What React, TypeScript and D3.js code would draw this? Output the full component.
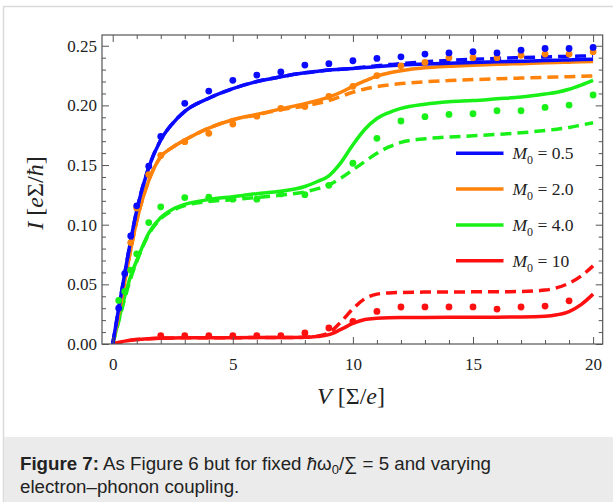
import React, { useEffect, useRef } from "react";
import * as d3 from "d3";

// voltage grid used by all computed curves
const vGrid = [0, 0.25, 0.5, 0.75, 1, 1.5, 2, 2.5, 3, 4, 5, 6, 7, 8, 8.5, 9, 9.5, 10, 10.5, 11, 11.5, 12, 13, 14, 15, 16, 17, 18, 18.5, 19, 19.5, 20];

const blueSolid = [0, 0.03, 0.059, 0.087, 0.112, 0.148, 0.171, 0.185, 0.195, 0.206, 0.214, 0.22, 0.224, 0.2273, 0.2285, 0.2296, 0.2303, 0.231, 0.2318, 0.2325, 0.2332, 0.2338, 0.2347, 0.2353, 0.2359, 0.2365, 0.237, 0.2376, 0.2379, 0.2381, 0.2384, 0.2386];
const blueDashed = [0, 0.03, 0.059, 0.087, 0.112, 0.148, 0.171, 0.185, 0.195, 0.206, 0.214, 0.22, 0.224, 0.2273, 0.2285, 0.2296, 0.2303, 0.231, 0.2322, 0.2332, 0.2342, 0.235, 0.2365, 0.2377, 0.2386, 0.2394, 0.24, 0.2406, 0.2409, 0.2411, 0.2413, 0.2415];
const orangeSolid = [0, 0.025, 0.052, 0.079, 0.103, 0.137, 0.157, 0.165, 0.171, 0.181, 0.188, 0.1925, 0.197, 0.2015, 0.204, 0.207, 0.211, 0.216, 0.2205, 0.2245, 0.2272, 0.229, 0.2315, 0.2328, 0.2337, 0.2345, 0.235, 0.2357, 0.236, 0.2362, 0.2365, 0.2367];
const orangeDashed = [0, 0.025, 0.052, 0.079, 0.103, 0.137, 0.157, 0.165, 0.171, 0.181, 0.188, 0.192, 0.1965, 0.1995, 0.2015, 0.204, 0.2075, 0.211, 0.2138, 0.2158, 0.2172, 0.2183, 0.2198, 0.2208, 0.2216, 0.2223, 0.2229, 0.2235, 0.2238, 0.2241, 0.2244, 0.2247];
const greenSolid = [0, 0.02, 0.04, 0.057, 0.07, 0.093, 0.106, 0.113, 0.117, 0.121, 0.1235, 0.126, 0.128, 0.132, 0.136, 0.141, 0.152, 0.167, 0.18, 0.189, 0.194, 0.1975, 0.201, 0.203, 0.204, 0.2055, 0.207, 0.2095, 0.211, 0.2135, 0.217, 0.221];
const greenDashed = [0, 0.019, 0.038, 0.055, 0.069, 0.092, 0.105, 0.112, 0.116, 0.1195, 0.121, 0.1228, 0.1248, 0.1275, 0.13, 0.1333, 0.139, 0.146, 0.153, 0.1598, 0.1652, 0.169, 0.172, 0.1735, 0.1745, 0.1757, 0.177, 0.179, 0.18, 0.1815, 0.1835, 0.1855];
const redSolid = [0, 0.0012, 0.0024, 0.0032, 0.0038, 0.0045, 0.0049, 0.0051, 0.0052, 0.0053, 0.0053, 0.0054, 0.0054, 0.0056, 0.0062, 0.0078, 0.0122, 0.0172, 0.0205, 0.0215, 0.022, 0.0222, 0.0223, 0.0224, 0.0224, 0.0225, 0.0226, 0.0232, 0.0245, 0.0272, 0.033, 0.0418];
const redDashed = [0, 0.0012, 0.0024, 0.0032, 0.0038, 0.0045, 0.0049, 0.0051, 0.0052, 0.0053, 0.0053, 0.0054, 0.0054, 0.0056, 0.0065, 0.0095, 0.0185, 0.0295, 0.038, 0.0418, 0.0428, 0.0432, 0.0435, 0.0436, 0.0437, 0.0438, 0.044, 0.0452, 0.0472, 0.051, 0.057, 0.0655];

// simulated points
const blueDotV = [0.25, 0.5, 0.75, 1, 1.5, 2, 3, 4, 5, 6, 7, 8, 9, 10, 11, 12, 13, 14, 15, 16, 17, 18, 19, 20];
const blueDots = [0.03, 0.059, 0.0906, 0.1158, 0.149, 0.174, 0.2017, 0.212, 0.221, 0.2254, 0.228, 0.2338, 0.235, 0.2374, 0.2394, 0.2407, 0.243, 0.244, 0.245, 0.244, 0.2463, 0.2477, 0.2477, 0.2486];
const orangeDotV = [0.75, 1, 1.5, 2, 3, 4, 5, 6, 7, 8, 9, 10, 11, 12, 13, 14, 15, 16, 17, 18, 19, 20];
const orangeDots = [0.085, 0.114, 0.142, 0.158, 0.1696, 0.1766, 0.1844, 0.191, 0.1975, 0.199, 0.2075, 0.216, 0.225, 0.2332, 0.236, 0.24, 0.24, 0.24, 0.242, 0.243, 0.243, 0.245];
const greenDotV = [0.25, 0.5, 0.75, 1, 1.5, 2, 3, 4, 5, 6, 7, 8, 9, 10, 11, 12, 13, 14, 15, 16, 17, 18, 19, 20];
const greenDots = [0.0365, 0.044, 0.062, 0.0756, 0.1018, 0.115, 0.1227, 0.123, 0.1214, 0.1214, 0.1258, 0.1252, 0.133, 0.1515, 0.1724, 0.1869, 0.1905, 0.1924, 0.193, 0.1955, 0.1955, 0.1983, 0.2003, 0.2087];
const redDotV = [2, 3, 4, 5, 6, 7, 8, 9, 10, 11, 12, 13, 14, 15, 16, 17, 18, 19];
const redDots = [0.0069, 0.0069, 0.0069, 0.0069, 0.007, 0.0069, 0.0092, 0.0134, 0.019, 0.0273, 0.031, 0.0311, 0.0311, 0.0311, 0.0293, 0.031, 0.0318, 0.0362];

const legendLabels = ["0.5", "2.0", "4.0", "10"];
const colors = ["#0a0aff", "#ff820a", "#18f018", "#ff1010"];

export default function App() {
  const ref = useRef<SVGSVGElement>(null);

  useEffect(() => {
    const svg = d3.select(ref.current);
    svg.selectAll("*").remove();

    const left = 102, right = 602.7, top = 35, bottom = 344;
    const x = d3.scaleLinear().domain([-0.446, 20.4]).range([left, right]);
    const y = d3.scaleLinear().domain([0, 0.259]).range([bottom, top]);
    const serif = "'Liberation Serif', 'Times New Roman', serif";

    // figure frame + caption box
    svg.append("rect").attr("width", 613).attr("height", 502).attr("fill", "#fff");
    svg.append("path").attr("d", "M3.5,502V6.5H613").attr("fill", "none").attr("stroke", "#dadada").attr("stroke-width", 1.5);
    svg.append("rect").attr("x", 4).attr("y", 437).attr("width", 609).attr("height", 65).attr("fill", "#ebebeb");

    const clipId = "plotclip";
    svg.append("clipPath").attr("id", clipId).append("rect")
      .attr("x", left).attr("y", top - 5).attr("width", right - left).attr("height", bottom - top + 5);

    const series = [
      { solid: blueSolid, dashed: blueDashed, dv: blueDotV, dots: blueDots },
      { solid: orangeSolid, dashed: orangeDashed, dv: orangeDotV, dots: orangeDots },
      { solid: greenSolid, dashed: greenDashed, dv: greenDotV, dots: greenDots },
      { solid: redSolid, dashed: redDashed, dv: redDotV, dots: redDots },
    ];

    const line = d3.line<number>()
      .x((_, i) => x(vGrid[i]))
      .y((d) => y(d))
      .curve(d3.curveMonotoneX);

    const plot = svg.append("g").attr("clip-path", `url(#${clipId})`);
    // draw red first so blue ends up on top
    for (let s = series.length - 1; s >= 0; s--) {
      plot.append("path").attr("d", line(series[s].dashed)!)
        .attr("fill", "none").attr("stroke", colors[s]).attr("stroke-width", 3.5)
        .attr("stroke-dasharray", "11,6");
      plot.append("path").attr("d", line(series[s].solid)!)
        .attr("fill", "none").attr("stroke", colors[s]).attr("stroke-width", 3.5);
    }
    for (let s = series.length - 1; s >= 0; s--) {
      plot.append("g").selectAll("circle")
        .data(series[s].dots)
        .enter()
        .append("circle")
        .attr("cx", (_, i) => x(series[s].dv[i]))
        .attr("cy", (d) => y(d))
        .attr("r", 3.4)
        .attr("fill", colors[s]);
    }

    // frame with inward ticks on all sides
    const frameColor = "#555";
    const majorX = [0, 5, 10, 15, 20];
    const minorX = d3.range(0, 21).filter((v) => v % 5 !== 0);
    const majorY = [0, 0.05, 0.1, 0.15, 0.2, 0.25];
    const minorY = d3.range(0, 26).map((v) => v / 100).filter((_, i) => i % 5 !== 0);

    const axes = svg.append("g");
    const styleAxis = (g: any) => {
      g.attr("font-family", serif).attr("font-size", 17);
      g.select(".domain").remove();
      g.selectAll("line").attr("stroke", frameColor).attr("stroke-width", 1);
      g.selectAll("text").attr("font-size", 17).attr("fill", "#222").attr("font-family", serif);
    };

    axes.append("g").attr("transform", `translate(0,${bottom})`)
      .call(d3.axisBottom(x).tickValues(majorX).tickSize(-7).tickPadding(14).tickFormat(d3.format("d")))
      .call(styleAxis);
    axes.append("g").attr("transform", `translate(0,${bottom})`)
      .call(d3.axisBottom(x).tickValues(minorX).tickSize(-4).tickFormat(() => ""))
      .call(styleAxis);
    axes.append("g").attr("transform", `translate(0,${top})`)
      .call(d3.axisTop(x).tickValues(majorX).tickSize(-7).tickFormat(() => ""))
      .call(styleAxis);
    axes.append("g").attr("transform", `translate(0,${top})`)
      .call(d3.axisTop(x).tickValues(minorX).tickSize(-4).tickFormat(() => ""))
      .call(styleAxis);
    axes.append("g").attr("transform", `translate(${left},0)`)
      .call(d3.axisLeft(y).tickValues(majorY).tickSize(-7).tickPadding(5).tickFormat(d3.format(".2f")))
      .call(styleAxis);
    axes.append("g").attr("transform", `translate(${left},0)`)
      .call(d3.axisLeft(y).tickValues(minorY).tickSize(-4).tickFormat(() => ""))
      .call(styleAxis);
    axes.append("g").attr("transform", `translate(${right},0)`)
      .call(d3.axisRight(y).tickValues(majorY).tickSize(-7).tickFormat(() => ""))
      .call(styleAxis);
    axes.append("g").attr("transform", `translate(${right},0)`)
      .call(d3.axisRight(y).tickValues(minorY).tickSize(-4).tickFormat(() => ""))
      .call(styleAxis);

    svg.append("rect").attr("x", left).attr("y", top).attr("width", right - left).attr("height", bottom - top)
      .attr("fill", "none").attr("stroke", frameColor).attr("stroke-width", 1.2);

    // axis titles
    const xt = svg.append("text").attr("x", 351).attr("y", 404).attr("text-anchor", "middle")
      .attr("font-family", serif).attr("font-size", 24).attr("fill", "#222");
    xt.append("tspan").attr("font-style", "italic").text("V");
    xt.append("tspan").text(" [Σ/");
    xt.append("tspan").attr("font-style", "italic").text("e");
    xt.append("tspan").text("]");

    const yt = svg.append("text").attr("transform", "translate(43,193) rotate(-90)").attr("text-anchor", "middle")
      .attr("font-family", serif).attr("font-size", 24).attr("fill", "#222");
    yt.append("tspan").attr("font-style", "italic").text("I");
    yt.append("tspan").text(" [");
    yt.append("tspan").attr("font-style", "italic").text("e");
    yt.append("tspan").text("Σ/");
    yt.append("tspan").attr("font-style", "italic").text("ħ");
    yt.append("tspan").text("]");

    // legend
    const lg = svg.append("g");
    legendLabels.forEach((lab, i) => {
      const ly = 153.3 + i * 35.8;
      lg.append("line").attr("x1", 456).attr("x2", 503.5).attr("y1", ly).attr("y2", ly)
        .attr("stroke", colors[i]).attr("stroke-width", 3.5);
      const t = lg.append("text").attr("x", 512.5).attr("y", ly + 6)
        .attr("font-family", serif).attr("font-size", 17.5).attr("fill", "#222");
      t.append("tspan").attr("font-style", "italic").text("M");
      t.append("tspan").attr("font-size", 12).attr("dy", 5).text("0");
      t.append("tspan").attr("dy", -5).text(` = ${lab}`);
    });

    // caption
    const sans = "'Liberation Sans', Arial, sans-serif";
    const c1 = svg.append("text").attr("x", 20).attr("y", 470).attr("font-family", sans).attr("font-size", 18.7).attr("fill", "#222");
    c1.append("tspan").attr("font-weight", "bold").text("Figure 7:");
    c1.append("tspan").text(" As Figure 6 but for fixed ");
    c1.append("tspan").attr("font-style", "italic").text("ħ");
    c1.append("tspan").text("ω");
    c1.append("tspan").attr("font-size", 13).attr("dy", 4).text("0");
    c1.append("tspan").attr("dy", -4).text("/∑ = 5 and varying");
    svg.append("text").attr("x", 20).attr("y", 492.7).attr("font-family", sans).attr("font-size", 18.7).attr("fill", "#222")
      .text("electron–phonon coupling.");
  }, []);

  return (
    <svg ref={ref} width={613} height={502} style={{ position: "absolute", left: 0, top: 0 }} />
  );
}
